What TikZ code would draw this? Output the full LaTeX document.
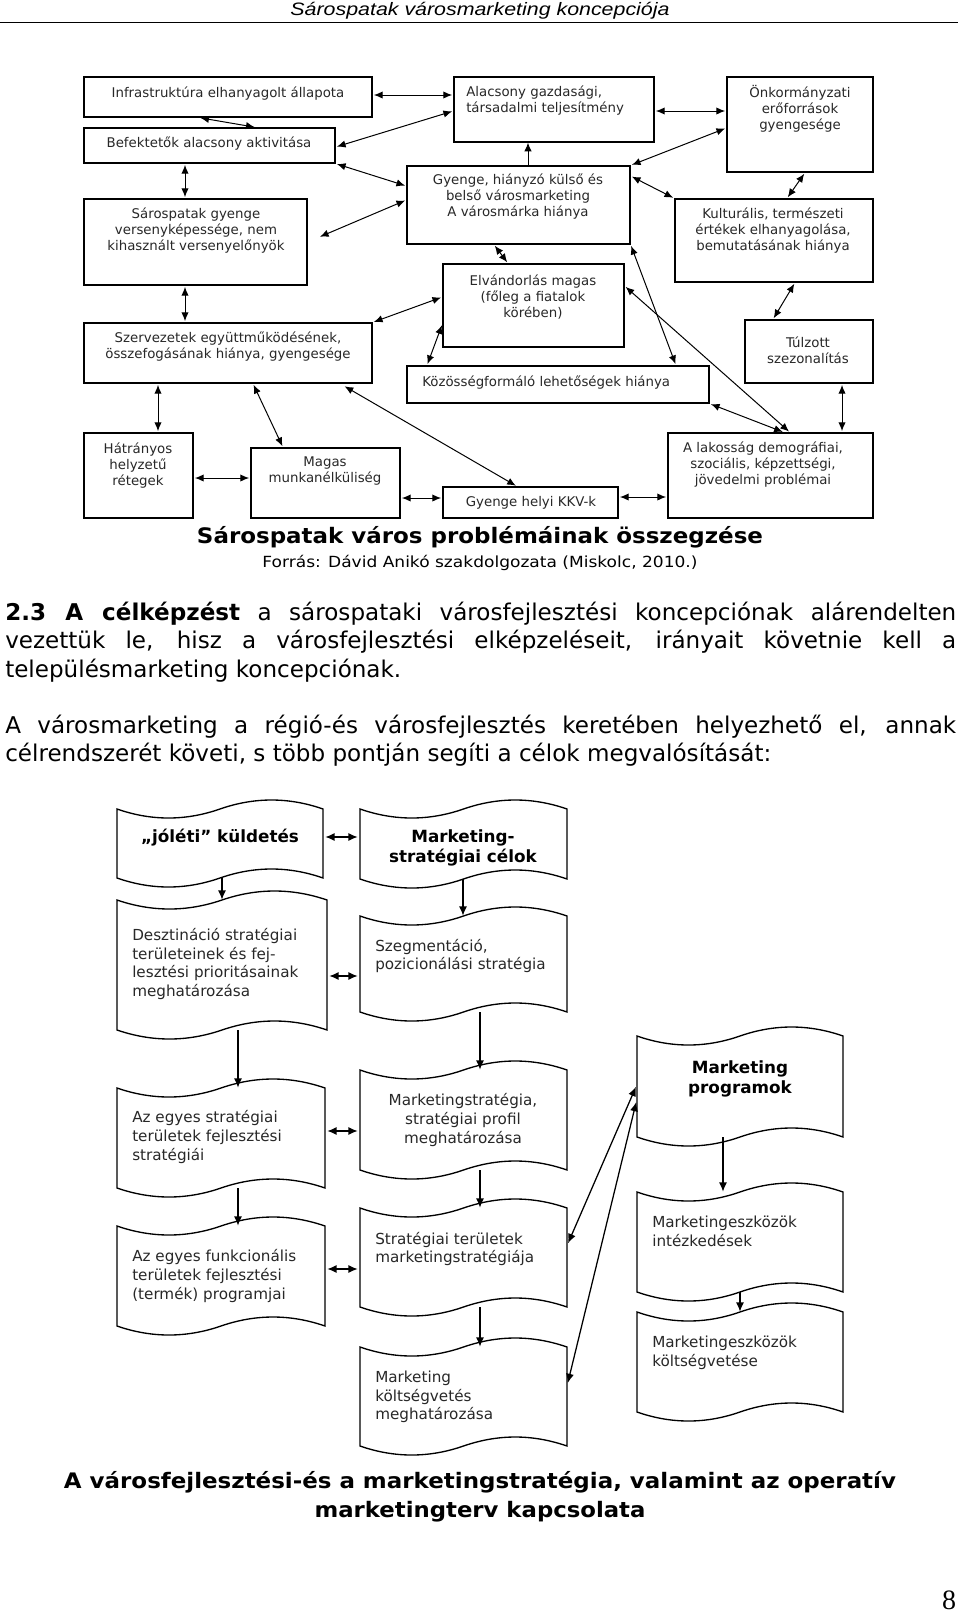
\documentclass[tikz,border=0pt]{standalone}
\usepackage{graphicx}
\usepackage{fontspec}
\setmainfont{DejaVu Sans}
\newfontfamily\hdrfont{Liberation Sans}
\newfontfamily\numfont{Liberation Serif}
\usetikzlibrary{arrows.meta,fit}
\pgfdeclarelayer{bg}
\pgfsetlayers{bg,main}
\definecolor{framec}{RGB}{170,182,204}
\definecolor{txtc}{RGB}{40,40,40}

\newcommand\tapeshape[5]{%
  \pgfmathsetmacro\tpq{(#3-#2)/6}%
  \pgfmathsetmacro\tpm{(#2+#3)/2}%
  \draw[tapeline] (#2,#4) .. controls +(\tpq,12) and +(-\tpq,12) .. (\tpm,#4)
    .. controls +(\tpq,-12) and +(-\tpq,-12) .. (#3,#4) -- (#3,#5)
    .. controls +(-\tpq,-12) and +(\tpq,-12) .. (\tpm,#5)
    .. controls +(-\tpq,12) and +(\tpq,12) .. (#2,#5) -- cycle;
  \node[fit={(#2,#4) (#3,#5)}, inner sep=0pt, draw=none] (#1) {};
}

\tikzset{
  pbox/.style={draw=black, line width=0.95pt, fill=white, inner sep=0pt},
  ptext/.style={font=\fontsize{10}{12}\selectfont, text=txtc, align=center, inner sep=0pt},
  parr/.style={line width=0.75pt, {Latex[length=6.5pt,width=5.5pt]}-{Latex[length=6.5pt,width=5.5pt]}, shorten <=1pt, shorten >=1pt},
  parrone/.style={line width=0.75pt, -{Latex[length=6.5pt,width=5.5pt]}},
  tapeline/.style={draw=black, line width=1pt, fill=white},
  ttext/.style={font=\fontsize{11.4}{14}\selectfont, text=txtc, align=left, inner sep=0pt, anchor=west},
  tbold/.style={font=\bfseries\fontsize{12.6}{15}\selectfont, text=black, align=center, inner sep=0pt},
  tarr/.style={line width=0.95pt, -{Latex[length=7pt,width=6pt]}},
  tarrb/.style={line width=0.95pt, {Latex[length=7pt,width=6pt]}-{Latex[length=7pt,width=6pt]}, shorten <=1.5pt, shorten >=1.5pt},
  bodyline/.style={font=\fontsize{17.3}{20}\selectfont, anchor=base west, inner sep=0pt},
  capline/.style={font=\bfseries\fontsize{16}{20}\selectfont, anchor=base, inner sep=0pt},
}

\begin{document}
\begin{tikzpicture}[x=0.75pt,y=-0.75pt]
\fill[white] (0,0) rectangle (960,1613);
\useasboundingbox (0,0) rectangle (960,1613);

% ---------- header ----------
\node[anchor=base, inner sep=0pt, font=\hdrfont\itshape\fontsize{13.5}{16}\selectfont] (hdr) at (480,16)
  {\resizebox{284.25pt}{\height}{Sárospatak városmarketing koncepciója}};
\draw[line width=1.1pt] (0,22.6) coordinate (hl) -- (958,22.6) coordinate (hr);

% ---------- diagram 1 ----------
\begin{pgfonlayer}{bg}
  \draw[framec, line width=1.5pt] (84,77) rectangle (873,518);
\end{pgfonlayer}

\node[pbox, fit={(84,77) (372,117)}] (infra) {};
\node[pbox, fit={(84,128) (335,163)}] (bef) {};
\node[pbox, fit={(84,199) (307,285)}] (sarg) {};
\node[pbox, fit={(84,323) (372,383)}] (szerv) {};
\node[pbox, fit={(84,433) (193,518)}] (hatr) {};
\node[pbox, fit={(251,448) (400,518)}] (magas) {};
\node[pbox, fit={(443,487) (618,518)}] (kkv) {};
\node[pbox, fit={(454,77) (654,142)}] (alac) {};
\node[pbox, fit={(727,77) (873,172)}] (onk) {};
\node[pbox, fit={(407,166) (630,244)}] (gyh) {};
\node[pbox, fit={(675,199) (873,282)}] (kult) {};
\node[pbox, fit={(443,264) (624,347)}] (elv) {};
\node[pbox, fit={(745,320) (873,383)}] (tulz) {};
\node[pbox, fit={(407,366) (709,403)}] (koz) {};
\node[pbox, fit={(668,433) (873,518)}] (lak) {};

\node[ptext] (infra-t) at (228,94) {Infrastruktúra elhanyagolt állapota};
\node[ptext] (bef-t) at (209,144) {Befektetők alacsony aktivitása};
\node[ptext] (sarg-t) at (196,231) {Sárospatak gyenge\\versenyképessége, nem\\kihasznált versenyelőnyök};
\node[ptext] (szerv-t) at (228,347) {Szervezetek együttműködésének,\\összefogásának hiánya, gyengesége};
\node[ptext] (hatr-t) at (138,466) {Hátrányos\\helyzetű\\rétegek};
\node[ptext] (magas-t) at (325,471) {Magas\\munkanélküliség};
\node[ptext] (kkv-t) at (531,503) {Gyenge helyi KKV-k};
\node[ptext, align=left, anchor=west] (alac-t) at (466,101) {Alacsony gazdasági,\\társadalmi teljesítmény};
\node[ptext] (onk-t) at (800,109) {Önkormányzati\\erőforrások\\gyengesége};
\node[ptext] (gyh-t) at (518,197) {Gyenge, hiányzó külső és\\belső városmarketing\\A városmárka hiánya};
\node[ptext] (kult-t) at (773,231) {Kulturális, természeti\\értékek elhanyagolása,\\bemutatásának hiánya};
\node[ptext] (elv-t) at (533,297) {Elvándorlás magas\\(főleg a fiatalok\\körében)};
\node[ptext] (tulz-t) at (808,350) {Túlzott\\szezonalítás};
\node[ptext, anchor=west] (koz-t) at (422,383) {Közösségformáló lehetőségek hiánya};
\node[ptext] (lak-t) at (763,465) {A lakosság demográfiai,\\szociális, képzettségi,\\jövedelmi problémai};

% lines passing behind boxes
\begin{pgfonlayer}{bg}
  \draw[parr] (bef.south -| 317,0) -- (kkv.north -| 528,0);
  \draw[parrone] (gyh.south -| 533,0) -- (kkv.north -| 542,0);
\end{pgfonlayer}

\draw[parr] (infra.east |- 0,95) -- (alac.west |- 0,95);
\draw[parr] (infra.south -| 199,0) -- (bef.north -| 256,0);
\draw[parr] (bef.east |- 0,147) -- (alac.west |- 0,111);
\draw[parr] (bef.south -| 185,0) -- (sarg.north -| 185,0);
\draw[parr] (bef.south east) -- (gyh.west |- 0,186);
\draw[parr, shorten <=10pt] (sarg.east |- 0,242) -- (gyh.west |- 0,200);
\draw[parr] (sarg.south -| 185,0) -- (szerv.north -| 185,0);
\draw[parr] (szerv.north east) -- (elv.west |- 0,297);
\draw[parr] (elv.west |- 0,324) -- (koz.north -| 427,0);
\draw[parrone] (gyh.north -| 528,0) -- (alac.south -| 528,0);
\draw[parr] (alac.east |- 0,111) -- (onk.west |- 0,111);
\draw[parr] (gyh.north east) -- (onk.west |- 0,128);
\draw[parr] (gyh.east |- 0,176) -- (kult.north west);
\draw[parr] (onk.south -| 805,0) -- (kult.north -| 787,0);
\draw[parr] (gyh.south -| 494,0) -- (elv.north -| 508,0);
\draw[parr] (gyh.south east) -- (koz.north -| 676,0);
\draw[parr] (elv.east |- 0,286) -- (lak.north -| 790,0);
\draw[parr] (koz.south east) -- (lak.north -| 784,0);
\draw[parr] (tulz.south -| 842,0) -- (lak.north -| 842,0);
\draw[parr] (kult.south -| 795,0) -- (tulz.north -| 773,0);
\draw[parr, shorten <=4pt] (szerv.south -| 340,0) -- (kkv.north -| 517,0);
\draw[parr] (szerv.south -| 158,0) -- (hatr.north -| 158,0);
\draw[parr] (szerv.south -| 253,0) -- (magas.north -| 283,0);
\draw[parr] (hatr.east |- 0,478) -- (magas.west |- 0,478);
\draw[parr] (magas.east |- 0,498) -- (kkv.west |- 0,498);
\draw[parr] (kkv.east |- 0,497) -- (lak.west |- 0,497);

% ---------- captions and body text ----------
\node[capline] (cap1) at (480,543) {\resizebox{424.5pt}{\height}{Sárospatak város problémáinak összegzése}};
\node[anchor=base, inner sep=0pt, font=\fontsize{11.5}{14}\selectfont] (src1) at (480,567)
  {\resizebox{326.25pt}{\height}{Forrás: Dávid Anikó szakdolgozata (Miskolc, 2010.)}};

\node[bodyline] (p1) at (5,620) {\makebox[713.25pt][s]{\textbf{2.3 A célképzést} a sárospataki városfejlesztési koncepciónak alárendelten}};
\node[bodyline] (p2) at (5,648) {\makebox[713.25pt][s]{vezettük le, hisz a városfejlesztési elképzeléseit, irányait követnie kell a}};
\node[bodyline] (p3) at (5,677) {településmarketing koncepciónak.};
\node[bodyline] (p4) at (5,733) {\makebox[713.25pt][s]{A városmarketing a régió-és városfejlesztés keretében helyezhető el, annak}};
\node[bodyline] (p5) at (5,761) {célrendszerét követi, s több pontján segíti a célok megvalósítását:};

% ---------- diagram 2 ----------
\tapeshape{s1}{117}{323}{809}{878}
\tapeshape{s2}{360}{567}{809}{879}
\tapeshape{s3}{117}{327}{900}{1030}
\tapeshape{s4}{360}{567}{916}{1012}
\tapeshape{s5}{117}{325}{1088}{1188}
\tapeshape{s6}{360}{567}{1070}{1170}
\tapeshape{s7}{117}{325}{1226}{1326}
\tapeshape{s8}{360}{567}{1208}{1307}
\tapeshape{s9}{360}{567}{1347}{1446}
\tapeshape{s10}{637}{843}{1036}{1137}
\tapeshape{s11}{637}{843}{1192}{1292}
\tapeshape{s12}{637}{843}{1312}{1412}

\node[tbold] (s1-t) at (220,838) {„jóléti” küldetés};
\node[tbold] (s2-t) at (463,848) {Marketing-\\stratégiai célok};
\node[ttext] (s3-t) at (132,964) {Desztináció stratégiai\\területeinek és fej-\\lesztési prioritásainak\\meghatározása};
\node[ttext] (s4-t) at (375,956) {Szegmentáció,\\pozicionálási stratégia};
\node[ttext] (s5-t) at (132,1137) {Az egyes stratégiai\\területek fejlesztési\\stratégiái};
\node[ttext, align=center, anchor=center] (s6-t) at (463,1120) {Marketingstratégia,\\stratégiai profil\\meghatározása};
\node[ttext] (s7-t) at (132,1276) {Az egyes funkcionális\\területek fejlesztési\\(termék) programjai};
\node[ttext] (s8-t) at (375,1249) {Stratégiai területek\\marketingstratégiája};
\node[ttext] (s9-t) at (375,1397) {Marketing\\költségvetés\\meghatározása};
\node[tbold] (s10-t) at (740,1079) {Marketing\\programok};
\node[ttext] (s11-t) at (652,1231) {Marketingeszközök\\intézkedések};
\node[ttext] (s12-t) at (652,1353) {Marketingeszközök\\költségvetése};

\draw[tarrb] (s1.east |- 0,837) -- (s2.west |- 0,837);
\draw[tarrb] (s3.east |- 0,976) -- (s4.west |- 0,976);
\draw[tarrb] (s5.east |- 0,1131) -- (s6.west |- 0,1131);
\draw[tarrb] (s7.east |- 0,1269) -- (s8.west |- 0,1269);
\draw[tarr] (s1.south -| 222,0) -- (s3.north -| 222,0);
\draw[tarr] (s2.south -| 463,0) -- (s4.north -| 463,0);
\draw[tarr] (s3.south -| 238,0) -- (s5.north -| 238,0);
\draw[tarr] (s5.south -| 238,0) -- (s7.north -| 238,0);
\draw[tarr] (s4.south -| 480,0) -- (s6.north -| 480,0);
\draw[tarr] (s6.south -| 480,0) -- (s8.north -| 480,0);
\draw[tarr] (s8.south -| 480,0) -- (s9.north -| 480,0);
\draw[tarr] (s10.south -| 723,0) -- (s11.north -| 723,0);
\draw[tarr] (s11.south -| 740,0) -- (s12.north -| 740,0);
\draw[tarrb] (s10.west |- 0,1085) -- (s8.east |- 0,1245);
\draw[tarrb] (s10.west |- 0,1100) -- (s9.east |- 0,1385);

\node[capline] (cap2a) at (480,1488) {\resizebox{624pt}{\height}{A városfejlesztési-és a marketingstratégia, valamint az operatív}};
\node[capline] (cap2b) at (480,1517) {\resizebox{248.25pt}{\height}{marketingterv kapcsolata}};

\node[anchor=base, inner sep=0pt, font=\numfont\fontsize{21}{24}\selectfont] (pnum) at (949,1609) {8};
\end{tikzpicture}
\end{document}
